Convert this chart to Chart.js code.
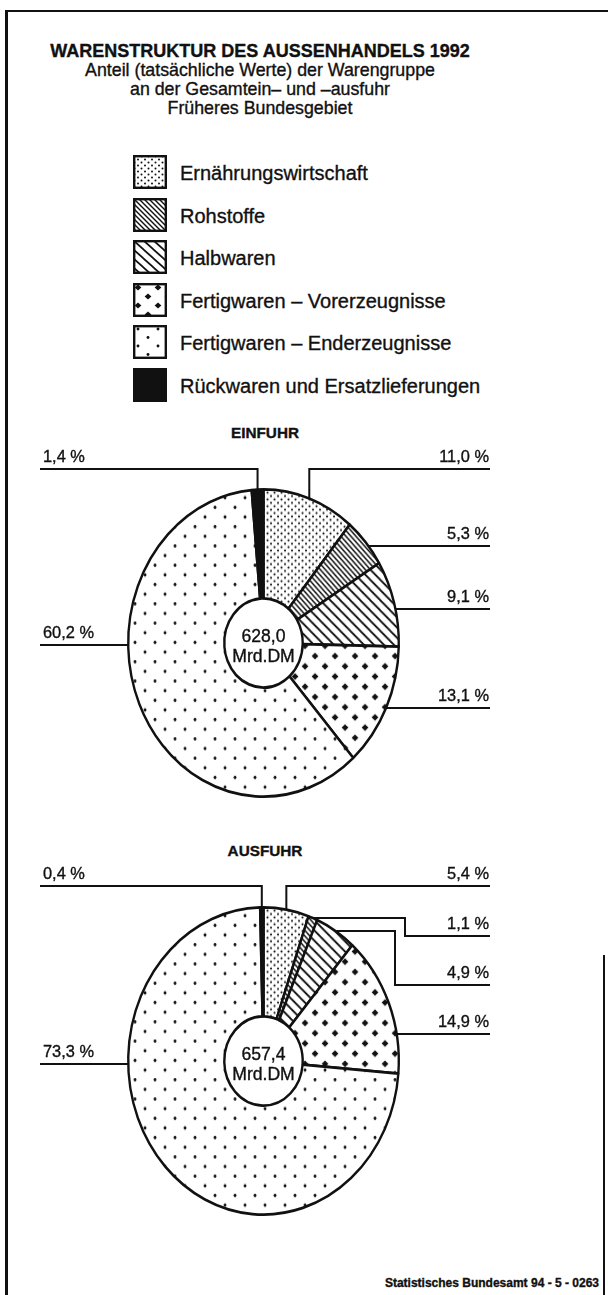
<!DOCTYPE html>
<html lang="de">
<head>
<meta charset="UTF-8">
<title>Warenstruktur des Aussenhandels 1992</title>
<script src="https://cdn.jsdelivr.net/npm/chart.js"></script>
<style>
  body { margin: 0; background: #fff; }
  #page { position: relative; width: 608px; height: 1295px; overflow: hidden; background: #fff;
          font-family: "Liberation Sans", Arial, sans-serif; color: #111; }
  .txt { position: absolute; white-space: nowrap; -webkit-text-stroke: 0.35px #111; }
  .rule { position: absolute; background: #111; }
  canvas.pie { position: absolute; left: 0; }
  canvas.swatch { position: absolute; left: 133px; }
</style>
</head>
<body>
<div id="page">
  <div class="rule" style="left:5px; top:10px; width:603px; height:2px;"></div>
  <div class="rule" style="left:5px; top:10px; width:3px; height:1285px;"></div>
  <div class="rule" style="left:603px; top:955px; width:2px; height:340px;"></div>
  <canvas id="einfuhr" class="pie" width="608" height="370" style="top:443px"></canvas>
  <canvas id="ausfuhr" class="pie" width="608" height="370" style="top:861px"></canvas>
</div>

<script>
  // data
  const categories = [
    'Ernährungswirtschaft',
    'Rohstoffe',
    'Halbwaren',
    'Fertigwaren – Vorerzeugnisse',
    'Fertigwaren – Enderzeugnisse',
    'Rückwaren und Ersatzlieferungen'
  ];
  const einfuhrShares = [11.0, 5.3, 9.1, 13.1, 60.2, 1.4];
  const ausfuhrShares = [5.4, 1.1, 4.9, 14.9, 73.3, 0.4];
  const einfuhrTotal = ['628,0', 'Mrd.DM'];
  const ausfuhrTotal = ['657,4', 'Mrd.DM'];

  const titleLines = [
    'WARENSTRUKTUR DES AUSSENHANDELS 1992',
    'Anteil (tatsächliche Werte) der Warengruppe',
    'an der Gesamtein– und –ausfuhr',
    'Früheres Bundesgebiet'
  ];
  const source = 'Statistisches Bundesamt 94 - 5 - 0263';

  const INK = '#111';
  const STRETCH = 1.135; // the printed pies are a bit taller than wide

  const page = document.getElementById('page');

  function addText(txt, x, base, size, weight, align) {
    const d = document.createElement('div');
    d.className = 'txt';
    d.textContent = txt;
    d.style.fontSize = size + 'px';
    d.style.lineHeight = size + 'px';
    d.style.fontWeight = weight;
    d.style.top = (base - 0.8465 * size) + 'px';
    if (align === 'center') {
      d.style.left = (x - 300) + 'px';
      d.style.width = '600px';
      d.style.textAlign = 'center';
    } else if (align === 'right') {
      d.style.right = (608 - x) + 'px';
    } else {
      d.style.left = x + 'px';
    }
    page.appendChild(d);
  }

  // title
  addText(titleLines[0], 260, 57, 18, 'bold', 'center');
  addText(titleLines[1], 260, 77, 17.8, 'normal', 'center');
  addText(titleLines[2], 260, 96, 17.8, 'normal', 'center');
  addText(titleLines[3], 260, 115, 17.8, 'normal', 'center');
  addText('EINFUHR', 265, 438, 15.3, 'bold', 'center');
  addText('AUSFUHR', 265, 856, 15.3, 'bold', 'center');
  addText(source, 599, 1287, 12, 'bold', 'right');

  // hatch / dot fills
  function tile(w, h, draw) {
    const c = document.createElement('canvas');
    c.width = w; c.height = h;
    const g = c.getContext('2d');
    g.fillStyle = '#fff';
    g.fillRect(0, 0, w, h);
    g.fillStyle = INK;
    g.strokeStyle = INK;
    draw(g, w, h);
    return c;
  }
  function dots(pts, r) {
    return (g) => pts.forEach(p => { g.beginPath(); g.arc(p[0], p[1], r, 0, Math.PI * 2); g.fill(); });
  }
  function hatch(lw) {
    return (g, w, h) => {
      g.lineWidth = lw;
      g.lineCap = 'square';
      for (let k = -1; k <= 1; k++) {
        g.beginPath(); g.moveTo(k * w, 0); g.lineTo(k * w + w, h); g.stroke();
      }
    };
  }
  function diamonds(pts, a, b) {
    return (g) => pts.forEach(p => {
      g.beginPath();
      g.moveTo(p[0], p[1] - b); g.lineTo(p[0] + a, p[1]);
      g.lineTo(p[0], p[1] + b); g.lineTo(p[0] - a, p[1]);
      g.closePath(); g.fill();
    });
  }

  const tiles = [
    tile(7, 6, dots([[1.5, 1.5], [5, 4.5]], 1.0)),
    tile(5, 5, hatch(1.4)),
    tile(10, 9, hatch(1.7)),
    tile(20, 18, diamonds([[5, 4.5], [15, 13.5]], 3.4, 3.1)),
    tile(20, 17, dots([[5, 4], [15, 12.5]], 1.45)),
    null
  ];
  const helper = document.createElement('canvas').getContext('2d');
  const fills = tiles.map(t => t ? helper.createPattern(t, 'repeat') : INK);

  // legend
  categories.forEach((name, i) => {
    const top = 155 + i * 42.6;
    const c = document.createElement('canvas');
    c.className = 'swatch';
    c.width = 34; c.height = 34;
    c.style.top = top + 'px';
    page.appendChild(c);
    const g = c.getContext('2d');
    g.fillStyle = fills[i];
    g.fillRect(1, 1, 32, 32);
    g.lineWidth = 2.4;
    g.strokeStyle = INK;
    g.strokeRect(1.2, 1.2, 31.6, 31.6);
    addText(name, 180, top + 25, 20, 'normal', 'left');
  });

  const fmt = v => v.toFixed(1).replace('.', ',') + ' %';

  // makes the round doughnut into the printed oval
  const ovalPlugin = {
    id: 'oval',
    beforeDatasetsDraw(chart) {
      const a = chart.getDatasetMeta(0).data[0];
      const ctx = chart.ctx;
      ctx.save();
      ctx.translate(a.x, a.y);
      ctx.scale(1, STRETCH);
      ctx.translate(-a.x, -a.y);
    },
    afterDatasetsDraw(chart) {
      chart.ctx.restore();
    }
  };

  function heavyText(ctx, s, x, y) {
    ctx.fillText(s, x, y);
    ctx.lineWidth = 0.35;
    ctx.strokeText(s, x, y);
  }

  // leader lines, percent labels and the total in the hole
  const calloutPlugin = {
    id: 'callouts',
    afterDraw(chart, args, opts) {
      const ctx = chart.ctx;
      const meta = chart.getDatasetMeta(0);
      const values = chart.data.datasets[0].data;
      const leftX = 40, rightX = 490;
      ctx.save();
      ctx.strokeStyle = INK;
      ctx.fillStyle = INK;
      meta.data.forEach((arc, i) => {
        const p = arc.getProps(['x', 'y', 'startAngle', 'endAngle', 'outerRadius'], true);
        const R = p.outerRadius, ry = R * STRETCH;
        const L = opts.leaders[i];
        const mid = (p.startAngle + p.endAngle) / 2;
        const mx = p.x + R * Math.cos(mid);
        const my = p.y + ry * Math.sin(mid);
        const endX = L.side === 'left' ? leftX : rightX;
        ctx.lineWidth = 2;
        ctx.beginPath();
        if (L.kind === 'top') {
          ctx.moveTo(endX, L.y);
          ctx.lineTo(mx, L.y);
          ctx.lineTo(mx, my);
        } else if (L.kind === 'step') {
          ctx.moveTo(mx, my);
          ctx.lineTo(L.elbow, my);
          ctx.lineTo(L.elbow, L.y);
          ctx.lineTo(endX, L.y);
        } else {
          const dy = (L.y - p.y) / ry;
          const half = R * Math.sqrt(Math.max(0, 1 - dy * dy));
          ctx.moveTo(endX, L.y);
          ctx.lineTo(p.x + (L.side === 'left' ? -half : half), L.y);
        }
        ctx.stroke();
        ctx.font = '16.4px "Liberation Sans", Arial, sans-serif';
        ctx.textBaseline = 'alphabetic';
        if (L.side === 'left') {
          ctx.textAlign = 'left';
          heavyText(ctx, fmt(values[i]), 43, L.y - 7);
        } else {
          ctx.textAlign = 'right';
          heavyText(ctx, fmt(values[i]), 489, L.y - 7);
        }
      });
      const c = meta.data[0];
      ctx.font = '17.6px "Liberation Sans", Arial, sans-serif';
      ctx.textAlign = 'center';
      heavyText(ctx, opts.total[0], c.x, c.y - 1);
      heavyText(ctx, opts.total[1], c.x, c.y + 19);
      ctx.restore();
    }
  };

  function makePie(id, shares, total, leaders) {
    return new Chart(document.getElementById(id), {
      type: 'doughnut',
      data: {
        labels: categories,
        datasets: [{
          data: shares,
          backgroundColor: fills,
          borderColor: INK,
          borderWidth: 2.4,
          clip: false
        }]
      },
      options: {
        responsive: false,
        animation: false,
        events: [],
        cutout: '29%',
        layout: { padding: { left: 127, right: 208, top: 63.3, bottom: 33.3 } },
        plugins: {
          legend: { display: false },
          tooltip: { enabled: false },
          callouts: { leaders: leaders, total: total }
        }
      },
      plugins: [ovalPlugin, calloutPlugin]
    });
  }

  makePie('einfuhr', einfuhrShares, einfuhrTotal, [
    { side: 'right', kind: 'top', y: 26 },
    { side: 'right', kind: 'edge', y: 103 },
    { side: 'right', kind: 'edge', y: 166 },
    { side: 'right', kind: 'edge', y: 265 },
    { side: 'left', kind: 'edge', y: 202 },
    { side: 'left', kind: 'top', y: 26 }
  ]);

  makePie('ausfuhr', ausfuhrShares, ausfuhrTotal, [
    { side: 'right', kind: 'top', y: 25 },
    { side: 'right', kind: 'step', y: 75, elbow: 405 },
    { side: 'right', kind: 'step', y: 124, elbow: 395 },
    { side: 'right', kind: 'edge', y: 173 },
    { side: 'left', kind: 'edge', y: 203 },
    { side: 'left', kind: 'top', y: 25 }
  ]);
</script>
</body>
</html>
